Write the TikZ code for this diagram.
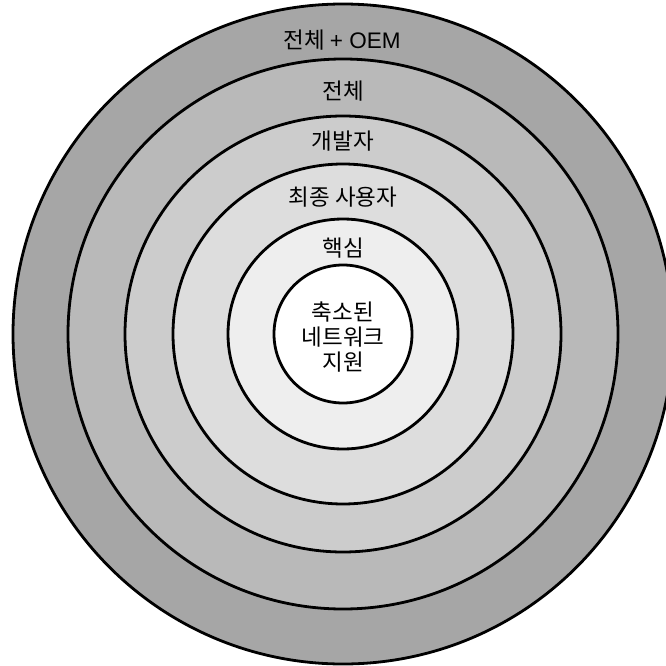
\documentclass[tikz,border=0pt]{standalone}
\usepackage{fontspec}
\setmainfont{Liberation Sans}
\newfontfamily\kr{Noto Sans CJK KR}
\definecolor{ringA}{HTML}{A6A6A6}
\definecolor{ringB}{HTML}{B9B9B9}
\definecolor{ringC}{HTML}{CCCCCC}
\definecolor{ringD}{HTML}{DDDDDD}
\definecolor{ringE}{HTML}{EEEEEE}
\begin{document}
\begin{tikzpicture}[x=1pt,y=-1pt,
  ring/.style={circle,draw=black,line width=2.8pt,inner sep=0pt,minimum size=#1},
  lab/.style={font=\fontsize{22.5}{25}\selectfont\kr,inner sep=0pt,align=center}]
\clip (0,0) rectangle (666,666);
\fill[white] (0,0) rectangle (666,666);
\node[ring=660pt,fill=ringA] (r1) at (343,334) {};
\node[ring=550pt,fill=ringB] (r2) at (343,334) {};
\node[ring=436pt,fill=ringC] (r3) at (343,334) {};
\node[ring=340pt,fill=ringD] (r4) at (343,334) {};
\node[ring=230pt,fill=ringE] (r5) at (343,334) {};
\node[ring=138pt,fill=white] (r6) at (343,334) {};
\node[lab] (t1) at (342,40) {전체 {\fontsize{22.5}{25}\rmfamily + OEM}};
\node[lab] (t2) at (343,91) {전체};
\node[lab] (t3) at (343,141) {개발자};
\node[lab] (t4) at (343,197) {최종 사용자};
\node[lab] (t5) at (343,248) {핵심};
\node[lab] (t6) at (343,337) {축소된\\ 네트워크\\ 지원};
\end{tikzpicture}
\end{document}
